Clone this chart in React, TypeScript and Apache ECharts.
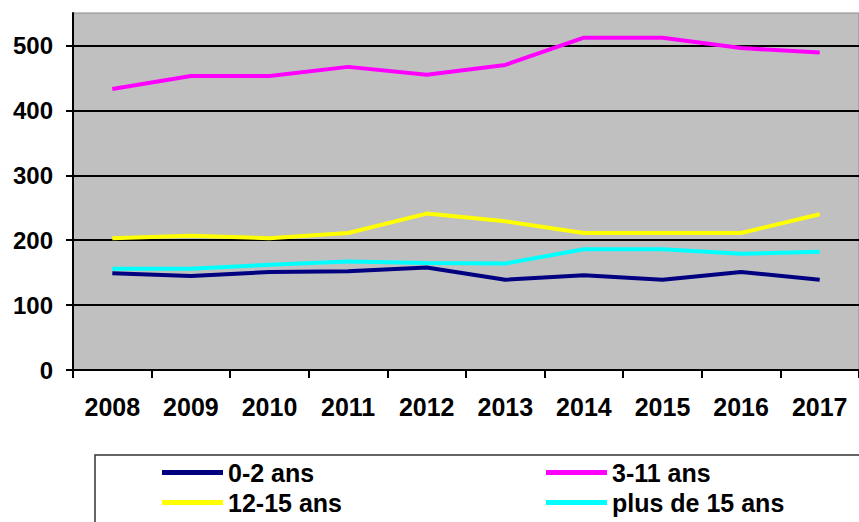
import React, { useEffect, useRef } from "react";
import * as echarts from "echarts";

const years = ["2008", "2009", "2010", "2011", "2012", "2013", "2014", "2015", "2016", "2017"];
const age0to2 = [149, 145, 151, 152, 158, 139, 146, 139, 151, 139];
const age3to11 = [433, 453, 453, 467, 455, 470, 512, 512, 496, 489];
const age12to15 = [203, 207, 203, 211, 241, 229, 211, 211, 211, 240];
const age15plus = [156, 156, 162, 167, 165, 164, 186, 186, 179, 182];
const seriesNames = ["0-2 ans", "3-11 ans", "12-15 ans", "plus de 15 ans"];
const yTicks = [0, 100, 200, 300, 400, 500];

const FONT = "'Liberation Sans', Arial, sans-serif";

export default function App() {
  const ref = useRef<HTMLDivElement>(null);
  useEffect(() => {
    if (!ref.current) return;
    const chart = echarts.init(ref.current, undefined, { renderer: "svg" });
    const mk = (name: string, data: number[], color: string) => ({
      name,
      type: "line",
      data,
      showSymbol: false,
      symbol: "none",
      lineStyle: { color, width: 4 },
      itemStyle: { color },
      emphasis: { disabled: true },
    });
    const legendText = { fontSize: 25, fontWeight: "bold", color: "#000", fontFamily: FONT, lineHeight: 25 };
    chart.setOption({
      animation: false,
      backgroundColor: "#fff",
      grid: {
        left: 73,
        top: 13,
        width: 790,
        height: 357,
        show: true,
        backgroundColor: "#C0C0C0",
        borderColor: "#8a8a8a",
        borderWidth: 1,
      },
      xAxis: {
        type: "category",
        data: years,
        boundaryGap: true,
        axisLine: { show: true, lineStyle: { color: "#000", width: 2 } },
        axisTick: { show: true, length: 8, lineStyle: { color: "#000", width: 2 } },
        axisLabel: { fontSize: 25, fontWeight: "bold", color: "#000", fontFamily: FONT, margin: 24 },
        splitLine: { show: false },
      },
      yAxis: {
        type: "value",
        min: yTicks[0],
        max: 550,
        interval: 100,
        axisLine: { show: true, lineStyle: { color: "#000", width: 2 } },
        axisTick: { show: true, length: 7, lineStyle: { color: "#000", width: 2 } },
        axisLabel: {
          fontSize: 24,
          fontWeight: "bold",
          color: "#000",
          fontFamily: FONT,
          margin: 20,
          showMaxLabel: false,
        },
        splitLine: { show: true, showMaxLine: false, lineStyle: { color: "#000", width: 2 } },
      },
      legend: [
        {
          left: 162,
          top: 460,
          orient: "vertical",
          itemGap: 5,
          itemWidth: 61,
          itemHeight: 5,
          icon: "rect",
          padding: 0,
          selectedMode: false,
          data: [seriesNames[0], seriesNames[2]],
          textStyle: legendText,
        },
        {
          left: 546,
          top: 460,
          orient: "vertical",
          itemGap: 5,
          itemWidth: 61,
          itemHeight: 5,
          icon: "rect",
          padding: 0,
          selectedMode: false,
          data: [seriesNames[1], seriesNames[3]],
          textStyle: legendText,
        },
      ],
      graphic: [
        {
          type: "rect",
          shape: { x: 95, y: 455, width: 800, height: 100 },
          style: { fill: "none", stroke: "#333", lineWidth: 1.5 },
          z: 0,
        },
      ],
      series: [
        mk(seriesNames[0], age0to2, "#000080"),
        mk(seriesNames[1], age3to11, "#FF00FF"),
        mk(seriesNames[2], age12to15, "#FFFF00"),
        mk(seriesNames[3], age15plus, "#00FFFF"),
      ],
    });
    return () => chart.dispose();
  }, []);
  return (
    <div
      ref={ref}
      style={{ position: "absolute", left: 0, top: 0, width: 859, height: 522 }}
    />
  );
}
